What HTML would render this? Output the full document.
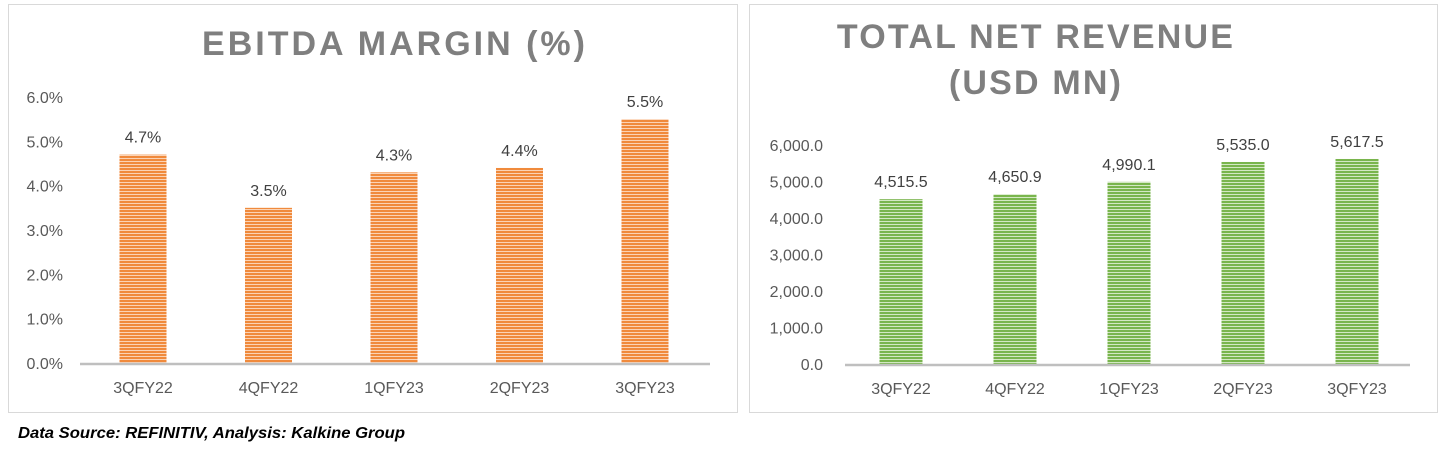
<!DOCTYPE html>
<html><head><meta charset="utf-8"><style>
body{margin:0;background:#fff;width:1444px;height:451px;overflow:hidden;font-family:"Liberation Sans",sans-serif}
svg{position:absolute;left:0;top:0}
</style></head><body>
<svg width="1444" height="451">
<defs>
<pattern id="po" width="4" height="3" patternUnits="userSpaceOnUse"><rect width="4" height="3" fill="#fbd3b5"/><rect width="4" height="2" fill="#f08a3c"/></pattern>
<pattern id="pg" width="4" height="3" patternUnits="userSpaceOnUse"><rect width="4" height="3" fill="#d3e8c3"/><rect width="4" height="2" fill="#79b54d"/></pattern>
</defs>
<rect x="8.5" y="4.5" width="729" height="408" fill="#fff" stroke="#d9d9d9"/>
<rect x="749.5" y="4.5" width="688" height="408" fill="#fff" stroke="#d9d9d9"/>
<text x="395" y="55" text-anchor="middle" font-size="34" font-weight="bold" fill="#7f7f7f" letter-spacing="3">EBITDA MARGIN (%)</text>
<text x="1036" y="48" text-anchor="middle" font-size="34" font-weight="bold" fill="#7f7f7f" letter-spacing="2.2">TOTAL NET REVENUE</text>
<text x="1036" y="94" text-anchor="middle" font-size="34" font-weight="bold" fill="#7f7f7f" letter-spacing="2.2">(USD MN)</text>
<g id="g1"></g><g id="g2"></g>
<text x="18" y="438" font-size="16" font-weight="bold" font-style="italic" fill="#000" textLength="387" lengthAdjust="spacingAndGlyphs">Data Source: REFINITIV, Analysis: Kalkine Group</text>
</svg>
<script>
const categories=["3QFY22","4QFY22","1QFY23","2QFY23","3QFY23"];
const ebitdaValues=[4.7,3.5,4.3,4.4,5.5];
const ebitdaTicks=[0,1,2,3,4,5,6];
const revenueValues=[4515.5,4650.9,4990.1,5535.0,5617.5];
const revenueTicks=[0,1000,2000,3000,4000,5000,6000];
const NS="http://www.w3.org/2000/svg";
function mk(p,t,a,txt){const e=document.createElementNS(NS,t);for(const k in a)e.setAttribute(k,a[k]);if(txt!=null)e.textContent=txt;p.appendChild(e);return e;}
function draw(gid,o){
 const g=document.getElementById(gid);
 const y=v=>o.y0-(v-o.min)/(o.max-o.min)*(o.y0-o.y1);
 const x=i=>o.c0+i*o.step;
 o.ticks.forEach(t=>{const e=mk(g,"text",{x:o.lx,y:y(t)+6,"text-anchor":"end","font-size":16,fill:"#595959"},o.tf(t));
  
  });
 o.vals.forEach((v,i)=>{
  const b=mk(g,"rect",{x:x(i)-o.bw/2,y:y(v),width:o.bw,height:y(0)-y(v),fill:o.fill});
  
  
  const l=mk(g,"text",{x:x(i),y:y(v)-12,"text-anchor":"middle","font-size":16,fill:"#404040"},o.vf(v));
  
  
  const c=mk(g,"text",{x:x(i),y:o.y0+30,"text-anchor":"middle","font-size":16,fill:"#595959"},categories[i]);
  
  
 });
 const a=mk(g,"line",{x1:o.ax0,x2:o.ax1,y1:o.y0+1,y2:o.y0+1,stroke:"#bfbfbf","stroke-width":2.5});
 
 
}
draw("g1",{vals:ebitdaValues,ticks:ebitdaTicks,min:0,max:6,y0:363,y1:97,c0:143,step:125.5,bw:47,lx:63,ax0:80,ax1:710,fill:"url(#po)",tf:t=>t.toFixed(1)+"%",vf:v=>v.toFixed(1)+"%"});
const fmt=v=>v.toLocaleString("en-US",{minimumFractionDigits:1,maximumFractionDigits:1});
draw("g2",{vals:revenueValues,ticks:revenueTicks,min:0,max:6000,y0:364,y1:145,c0:901,step:114,bw:43,lx:823,ax0:845,ax1:1410,fill:"url(#pg)",tf:fmt,vf:fmt});
</script>
</body></html>
